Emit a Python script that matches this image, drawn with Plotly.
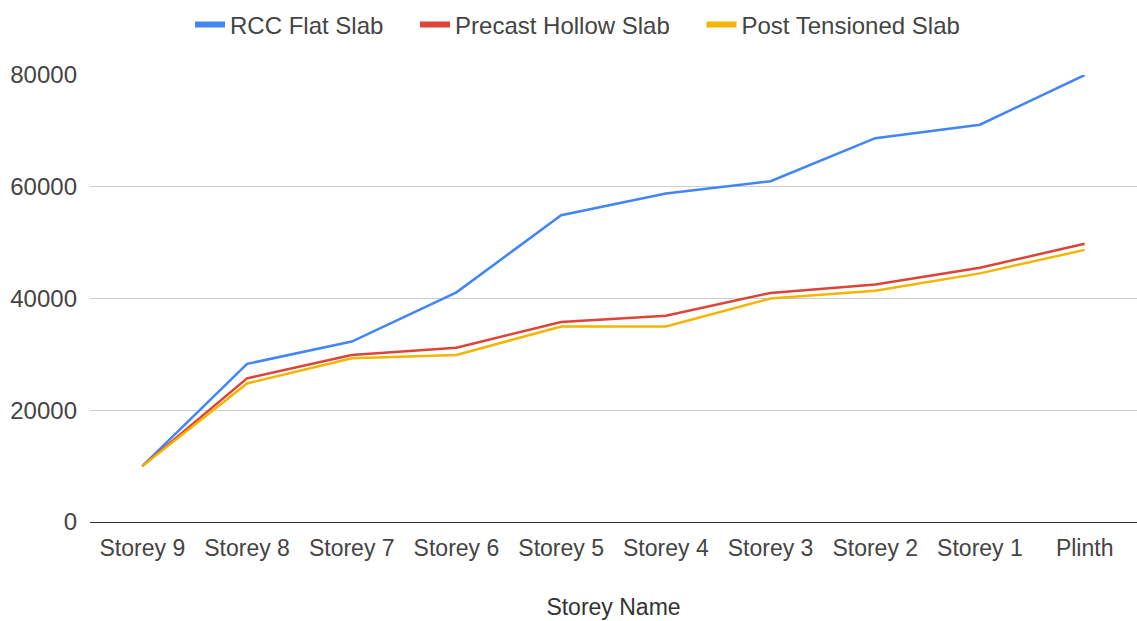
import plotly.graph_objects as go

storeys = ["Storey 9", "Storey 8", "Storey 7", "Storey 6", "Storey 5",
           "Storey 4", "Storey 3", "Storey 2", "Storey 1", "Plinth"]
rcc_flat_slab = [10000, 28300, 32300, 41100, 54900, 58800, 61000, 68700, 71100, 80000]
precast_hollow_slab = [10000, 25700, 29900, 31200, 35800, 36900, 41000, 42500, 45500, 49800]
post_tensioned_slab = [10000, 24800, 29300, 29900, 35000, 35000, 40000, 41400, 44500, 48700]
series_names = ["RCC Flat Slab", "Precast Hollow Slab", "Post Tensioned Slab"]
series_colors = ["#4285F4", "#DB4437", "#F4B400"]
y_ticks = [0, 20000, 40000, 60000, 80000]

pad = "\u00a0" * 4  # spacing between legend entries
legend_labels = [series_names[0] + pad, series_names[1] + pad, series_names[2]]

fig = go.Figure()
for vals, name, color in zip([rcc_flat_slab, precast_hollow_slab, post_tensioned_slab],
                             series_names, series_colors):
    fig.add_trace(go.Scatter(x=storeys, y=vals, mode="lines", name=name,
                             legendgroup=name, showlegend=False,
                             line=dict(color=color, width=2.5)))
# legend entries with thicker swatches
for name, label, color in zip(series_names, legend_labels, series_colors):
    fig.add_trace(go.Scatter(x=[None], y=[None], mode="lines", name=label,
                             legendgroup=name, showlegend=True, hoverinfo="skip",
                             line=dict(color=color, width=6)))

fig.update_layout(
    width=1137, height=621,
    margin=dict(l=90, r=0, t=75, b=99, autoexpand=False),
    paper_bgcolor="white", plot_bgcolor="white",
    font=dict(family="Liberation Sans, Arial, sans-serif", size=24, color="#444444"),
    showlegend=True,
    legend=dict(orientation="h", x=190 / 1137, xref="container", xanchor="left",
                y=1 - 25 / 621, yref="container", yanchor="middle",
                font=dict(size=24, color="#444444"), itemwidth=30,
                bgcolor="rgba(0,0,0,0)"),
    xaxis=dict(
        type="category", range=[-0.5, 9.5], automargin=False,
        title=dict(text="Storey Name", standoff=38, font=dict(size=23, color="#333333")),
        showgrid=False, showline=False, ticks="", ticklabelstandoff=10,
        tickfont=dict(size=23, color="#444444"),
    ),
    yaxis=dict(
        range=[0, 80000], tickvals=y_ticks, ticktext=[str(v) for v in y_ticks],
        automargin=False,
        showgrid=True, gridcolor="#cccccc", gridwidth=1,
        zeroline=True, zerolinecolor="#333333", zerolinewidth=1,
        showline=False, ticks="", ticklabelstandoff=12,
        tickfont=dict(size=24, color="#444444"),
    ),
)

fig.write_html("out.html", config={"displayModeBar": False},
               post_script="document.body.style.margin='0';")
